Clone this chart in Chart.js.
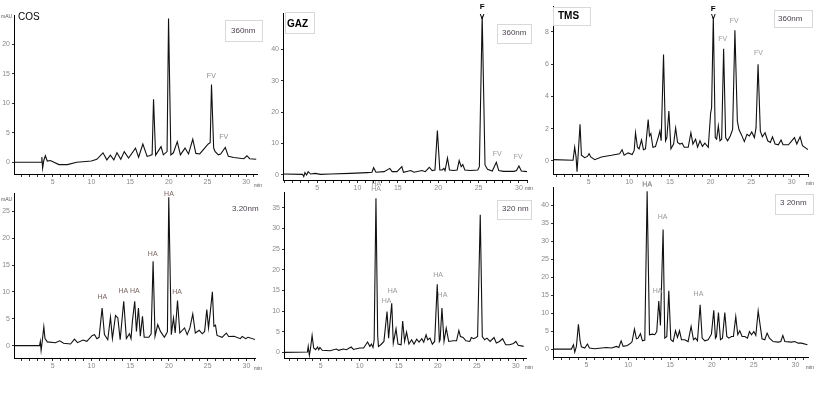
<!DOCTYPE html>
<html>
<head>
<meta charset="utf-8">
<script src="https://cdn.jsdelivr.net/npm/chart.js@4.4.1/dist/chart.umd.min.js"></script>
<style>
  body { margin: 0; background: #fff; }
  #page { position: relative; width: 817px; height: 399px; overflow: hidden; background: #fff; }
  #page canvas { position: absolute; }
</style>
</head>
<body>
<div id="page"></div>
<script>
// Chromatogrammes : [temps (min), absorbance (mAU)]
const cos360 = [[0,0],[3.5,0],[3.6,0.9],[3.7,-1.0],[3.85,0.3],[4.05,1.1],[4.3,0.2],[4.7,0.3],[5.8,-0.4],[6.9,-0.4],
  [8.1,0],[10.0,0.2],[10.7,0.5],[11.5,1.6],[12.0,0.4],[12.45,1.2],[12.9,0.4],[13.3,1.6],[13.8,0.5],[14.25,1.8],
  [14.8,0.7],[15.7,2.4],[16.1,0.85],[16.65,3.1],[17.2,1.0],[17.5,1.1],[17.85,1.3],[18.03,10.7],[18.3,1.2],[19.0,2.65],
  [19.3,1.25],[19.78,1.8],[19.97,24.4],[20.27,1.25],[20.6,1.6],[21.1,3.5],[21.5,1.25],[22.1,2.4],[22.55,1.4],[23.1,3.9],
  [23.5,1.5],[24.0,1.4],[24.8,2.65],[25.1,3.1],[25.35,3.3],[25.52,13.2],[25.8,2.4],[26.0,1.8],[26.4,1.25],[26.7,1.4],
  [27.3,2.5],[27.7,1.0],[28.4,0.8],[29.7,0.6],[30.1,1.1],[30.45,0.6],[31.3,0.5]];

const cos320 = [[0,0],[3.3,0],[3.4,0.8],[3.5,-0.9],[3.65,0.9],[3.85,3.5],[4.0,1.3],[4.3,0.7],[5.35,0.55],[5.9,0.9],
  [6.4,0.45],[7.3,0.3],[7.8,1.2],[8.2,0.55],[8.9,1.05],[9.4,0.8],[10.1,1.9],[10.4,2.05],[10.7,1.3],[10.98,1.55],
  [11.37,7.0],[11.67,2.05],[12.1,1.1],[12.45,5.3],[12.7,1.3],[13.1,5.6],[13.4,5.15],[13.7,1.1],[14.16,8.25],[14.5,1.3],
  [14.9,2.2],[15.1,1.3],[15.3,4.85],[15.58,8.25],[15.8,2.65],[16.06,7.0],[16.3,1.75],[16.58,5.45],[16.8,1.55],[17.4,1.55],
  [17.7,2.2],[17.95,15.7],[18.2,1.75],[18.55,3.9],[18.9,2.65],[19.4,1.55],[19.6,2.05],[19.8,2.6],[19.97,27.6],[20.3,2.05],
  [20.58,5.15],[20.8,2.35],[21.1,8.4],[21.4,2.35],[22.0,3.3],[22.35,2.05],[22.7,3.3],[23.07,5.9],[23.4,2.35],[23.9,2.85],
  [24.3,2.2],[24.6,2.65],[24.88,6.7],[25.1,3.3],[25.27,5.45],[25.6,10.0],[25.8,3.6],[26.0,3.8],[26.2,1.9],[26.85,1.55],
  [27.4,2.35],[27.7,1.7],[28.4,1.75],[29.2,1.3],[29.45,1.7],[29.9,1.3],[30.2,1.55],[31.2,1.1]];

const gaz360 = [[0.8,0.3],[3.2,0.2],[3.35,-0.5],[3.5,0.75],[3.7,0],[3.9,1.05],[4.2,0.3],[4.8,0.5],[5.4,0.2],[6.65,0.3],
  [9.1,0.5],[11.2,0.75],[11.8,0.85],[12.0,2.3],[12.3,0.85],[13.3,1.05],[14.0,2.1],[14.3,1.05],[14.9,1.05],[15.5,2.65],
  [15.7,0.85],[16.6,1.4],[17.0,0.85],[18.0,1.4],[18.4,1.05],[18.9,2.45],[19.25,1.4],[19.6,1.6],[19.9,14.1],[20.2,1.6],
  [20.5,1.6],[20.7,2.1],[20.85,1.4],[21.15,5.4],[21.4,1.6],[21.9,1.4],[22.35,1.6],[22.6,4.55],[22.85,2.65],[23.05,3.3],
  [23.3,1.6],[24.0,1.4],[24.9,1.6],[25.1,2.65],[25.45,50.6],[25.8,3.2],[26.1,1.8],[26.7,1.25],[27.2,4.0],[27.5,1.4],
  [28.1,1.15],[29.4,1.15],[29.7,1.4],[30.0,2.85],[30.3,1.25],[31.0,1.05]];

const gaz320 = [[0.3,0],[3.3,0.1],[3.4,1.45],[3.55,-0.7],[3.7,1.05],[3.9,4.1],[4.1,1.05],[4.35,0.65],[4.6,1.3],[4.75,0.65],
  [4.9,1.2],[5.2,0.5],[6.2,0.4],[7.0,0.8],[7.3,0.5],[7.9,0.8],[8.3,0.65],[8.9,1.3],[9.2,0.7],[10.0,1.05],
  [10.5,1.05],[11.0,2.5],[11.3,1.45],[11.5,2.0],[11.7,1.2],[11.85,3.0],[12.08,37.3],[12.3,4.0],[12.4,1.45],[12.7,1.85],
  [13.1,2.65],[13.5,9.9],[13.7,3.45],[14.1,11.9],[14.3,2.25],[14.65,5.7],[14.9,2.0],[15.3,1.85],[15.5,7.6],[15.75,2.65],
  [16.0,4.9],[16.3,2.0],[16.65,3.05],[16.95,2.0],[17.3,3.2],[17.6,2.5],[17.95,3.3],[18.2,2.5],[18.5,4.25],[18.7,3.05],
  [19.0,3.45],[19.3,2.0],[19.6,2.65],[19.93,16.45],[20.2,2.65],[20.3,3.05],[20.53,10.7],[20.8,2.65],[21.08,5.85],[21.4,2.65],
  [21.98,2.8],[22.4,2.8],[22.7,5.3],[22.9,3.85],[23.25,3.6],[23.6,2.8],[24.1,2.65],[24.3,3.6],[24.6,3.3],[24.9,3.6],
  [25.1,3.85],[25.44,33.3],[25.7,3.85],[26.0,3.05],[26.3,3.45],[26.7,2.65],[27.2,3.6],[27.5,2.25],[27.9,2.65],[28.3,3.3],
  [28.7,1.85],[29.2,1.85],[29.7,2.15],[30.0,2.65],[30.3,1.7],[31.0,1.45]];

const tms360 = [[0.6,0.08],[3.07,0.04],[3.27,0.85],[3.44,0.25],[3.56,-0.67],[3.73,0.65],[3.93,2.27],[4.1,0.35],[4.5,0.2],[4.84,0.28],
  [5.04,0.45],[5.25,0.25],[5.74,0.08],[6.56,0.25],[7.8,0.35],[8.8,0.45],[9.1,0.7],[9.36,0.35],[9.85,0.5],[10.35,0.4],
  [10.6,0.65],[10.76,1.75],[11.0,0.85],[11.2,0.75],[11.5,1.3],[11.74,0.7],[11.99,0.75],[12.32,2.57],[12.48,1.55],[12.65,1.7],
  [12.9,0.85],[13.22,0.9],[13.55,1.45],[13.76,1.85],[13.92,1.25],[14.21,6.6],[14.46,1.25],[14.62,1.45],[14.87,3.1],[15.12,0.75],
  [15.45,1.05],[15.7,2.05],[15.94,1.15],[16.23,1.05],[16.5,1.1],[16.76,0.85],[17.25,0.85],[17.58,1.75],[17.83,1.05],[18.16,1.35],
  [18.4,0.85],[18.7,1.25],[19.0,0.9],[19.3,1.1],[19.72,0.85],[20.01,2.97],[20.13,3.3],[20.34,8.95],[20.58,1.45],[20.75,1.35],
  [20.96,2.17],[21.16,1.25],[21.37,1.35],[21.61,6.96],[21.86,1.45],[22.1,1.25],[22.43,1.55],[22.72,1.95],[23.0,8.1],[23.3,2.47],
  [23.5,1.95],[23.83,1.6],[24.16,1.2],[24.49,1.65],[24.78,1.55],[25.07,1.8],[25.4,1.45],[25.6,2.05],[25.85,6.0],[26.13,1.85],
  [26.38,1.5],[26.71,1.75],[27.04,1.25],[27.37,1.15],[27.62,1.5],[27.95,1.05],[28.35,1.0],[28.68,1.3],[28.93,1.0],[29.59,1.0],
  [30.0,1.25],[30.33,1.45],[30.62,1.05],[31.03,1.5],[31.32,0.95],[32.0,0.7]];

const tms320 = [[1.0,0],[3.2,0],[3.45,1.2],[3.6,-0.85],[3.8,0.75],[4.04,6.9],[4.24,2.3],[4.4,0.65],[4.8,0.3],[5.12,1.4],
  [5.36,0.3],[6.0,0.1],[6.8,0.3],[7.4,0.45],[8.0,0.3],[8.6,0.75],[8.87,0.45],[9.15,2.3],[9.39,0.75],[9.9,1.0],
  [10.3,1.65],[10.46,2.1],[10.74,5.55],[10.98,2.85],[11.18,3.05],[11.46,4.25],[11.7,2.3],[11.98,2.5],[12.26,43.9],[12.54,4.0],
  [12.86,4.15],[13.17,4.0],[13.41,4.9],[13.65,13.4],[13.85,6.55],[14.17,33.3],[14.37,3.05],[14.61,3.5],[14.85,16.2],[15.09,2.6],
  [15.37,2.1],[15.65,5.1],[15.89,3.25],[16.13,5.1],[16.37,2.6],[16.76,2.6],[17.16,2.1],[17.52,6.3],[17.8,2.6],[18.04,3.05],
  [18.28,2.3],[18.6,12.3],[18.84,3.05],[19.16,2.3],[19.55,2.6],[19.95,4.15],[20.23,10.8],[20.43,3.05],[20.55,3.5],[20.79,10.15],
  [21.03,2.6],[21.27,3.05],[21.55,10.15],[21.79,3.5],[22.03,3.05],[22.35,3.5],[22.58,3.5],[22.86,9.05],[23.1,4.0],[23.34,5.1],
  [23.62,3.5],[23.94,3.5],[24.26,3.05],[24.5,4.9],[24.74,4.0],[25.02,4.9],[25.26,3.8],[25.54,10.6],[25.77,6.75],[26.0,2.85],
  [26.33,2.6],[26.61,4.45],[26.89,3.05],[27.33,2.1],[27.93,1.95],[28.25,2.1],[28.49,3.8],[28.73,2.1],[29.52,1.95],[29.92,2.1],
  [30.32,1.65],[30.72,1.65],[31.43,1.2]];

// graduations
const minuteTicks = [1,2,3,4,5,6,7,8,9,10,11,12,13,14,15,16,17,18,19,20,21,22,23,24,25,26,27,28,29,30,31,32];
const yTicksCos360 = [0, 5, 10, 15, 20];
const yTicksCos320 = [0, 5, 10, 15, 20, 25];
const yTicksGaz360 = [0, 10, 20, 30, 40];
const yTicksGaz320 = [0, 5, 10, 15, 20, 25, 30, 35];
const yTicksTms360 = [0, 2, 4, 6, 8];
const yTicksTms320 = [0, 5, 10, 15, 20, 25, 30, 35, 40];

// étiquettes des pics [temps, mAU, texte]
const notesCos360 = [[25.5, 14.6, 'FV'], [27.1, 4.35, 'FV']];
const notesCos320 = [[11.4, 9.0, 'HA'], [14.1, 10.2, 'HA'], [15.6, 10.2, 'HA'], [17.9, 17.1, 'HA'], [20.0, 28.2, 'HA'], [21.05, 10.0, 'HA']];
const notesGaz360 = [[27.3, 6.6, 'FV'], [29.9, 5.8, 'FV'], [12.35, -2.9, 'HA']];
const notesGaz320 = [[12.1, 39.4, 'HA'], [14.2, 14.85, 'HA'], [13.45, 12.4, 'HA'], [20.05, 18.7, 'HA'], [20.6, 13.9, 'HA']];
const notesTms360 = [[21.5, 7.57, 'FV'], [22.9, 8.7, 'FV'], [25.9, 6.68, 'FV'], [12.2, -1.42, 'HA']];
const notesTms320 = [[12.25, 45.5, 'HA'], [14.1, 36.6, 'HA'], [13.5, 16.2, 'HA'], [18.4, 15.4, 'HA']];

const FONT = 'Liberation Sans, Arial, sans-serif';

const panelText = (p) => ({
    id: 'panelText',
    afterDraw(chart) {
        const ctx = chart.ctx;
        const ox = p.box.x, oy = p.box.y;
        const sx = chart.scales.x, sy = chart.scales.y;
        ctx.save();
        ctx.textBaseline = 'middle';

        // cadres
        (p.frames || []).forEach(f => {
            ctx.strokeStyle = '#d8d8d8';
            ctx.lineWidth = 1;
            ctx.strokeRect(f[0] - ox + 0.5, f[1] - oy + 0.5, f[2], f[3]);
        });

        // nom de l'échantillon
        if (p.title) {
            ctx.fillStyle = '#000';
            ctx.font = (p.title.bold ? 'bold ' : '') + p.title.size + 'px ' + FONT;
            ctx.textAlign = 'left';
            ctx.fillText(p.title.text, p.title.x - ox, p.title.y - oy);
        }

        // longueur d'onde
        ctx.fillStyle = '#4d4450';
        ctx.font = '8px ' + FONT;
        ctx.textAlign = 'left';
        ctx.fillText(p.wl.text, p.wl.x - ox, p.wl.y - oy);

        // unités
        ctx.fillStyle = '#555';
        ctx.font = '5px ' + FONT;
        if (p.mau) ctx.fillText('mAU', p.mau[0] - ox, p.mau[1] - oy);
        ctx.fillText('min', p.minLbl[0] - ox, p.minLbl[1] - oy);

        // étiquettes des pics
        ctx.textAlign = 'center';
        ctx.font = '7px ' + FONT;
        p.notes.forEach(([t, v, txt]) => {
            ctx.fillStyle = p.noteColor;
            ctx.fillText(txt, sx.getPixelForValue(t), sy.getPixelForValue(v));
        });

        // marqueur F / V
        if (p.fMark) {
            ctx.fillStyle = '#000';
            ctx.font = 'bold 8px ' + FONT;
            const fx = sx.getPixelForValue(p.fMark[0]);
            ctx.fillText('F', fx, sy.getPixelForValue(p.fMark[1]));
            ctx.font = 'bold 7px ' + FONT;
            ctx.fillText('V', fx, sy.getPixelForValue(p.fMark[2]));
        }
        ctx.restore();
    }
});

function makePanel(p) {
    const canvas = document.createElement('canvas');
    canvas.width = p.box.w;
    canvas.height = p.box.h;
    canvas.style.left = p.box.x + 'px';
    canvas.style.top = p.box.y + 'px';
    document.getElementById('page').appendChild(canvas);

    const a = p.area;
    const tickFont = { family: FONT, size: 7 };

    new Chart(canvas, {
        type: 'line',
        data: {
            datasets: [{
                data: p.trace.map(([t, v]) => ({ x: t, y: v })),
                borderColor: '#111',
                borderWidth: 1.1,
                pointRadius: 0,
                tension: 0,
                fill: false
            }]
        },
        options: {
            responsive: false,
            animation: false,
            devicePixelRatio: 1,
            layout: { padding: { left: 0, bottom: 0, top: a.t - p.box.y, right: p.box.x + p.box.w - a.r } },
            plugins: { legend: { display: false }, tooltip: { enabled: false } },
            scales: {
                x: {
                    type: 'linear',
                    min: p.xr[0],
                    max: p.xr[1],
                    afterBuildTicks: s => { s.ticks = minuteTicks.filter(v => v >= p.xr[0] && v <= p.xr[1]).map(v => ({ value: v })); },
                    afterFit: s => { s.height = p.box.y + p.box.h - a.b; },
                    ticks: {
                        autoSkip: false, maxRotation: 0, padding: 1,
                        font: tickFont, color: '#8a8a8a',
                        callback: v => (v % 5 === 0 ? String(v) : '')
                    },
                    grid: { drawOnChartArea: false, tickLength: 3, color: '#333' },
                    border: { color: '#000', width: 1 }
                },
                y: {
                    type: 'linear',
                    min: p.yr[0],
                    max: p.yr[1],
                    afterBuildTicks: s => { s.ticks = p.yTicks.map(v => ({ value: v })); },
                    afterFit: s => { s.width = a.l - p.box.x; },
                    ticks: { padding: 2, font: tickFont, color: '#8a8a8a' },
                    grid: { drawOnChartArea: false, tickLength: 2, color: '#333' },
                    border: { color: '#000', width: 1 }
                }
            }
        },
        plugins: [panelText(p)]
    });
}

// COS 360 nm
makePanel({
    box: { x: 0, y: 0, w: 270, h: 192 }, area: { l: 14, t: 15, r: 257, b: 174 },
    xr: [0, 31.4], yr: [-2.0, 25.0], yTicks: yTicksCos360, trace: cos360,
    title: { text: 'COS', x: 18, y: 17, size: 10, bold: false },
    wl: { text: '360nm', x: 231, y: 31 }, frames: [[225, 20, 37, 21]],
    mau: [1, 17], minLbl: [254, 186],
    notes: notesCos360, noteColor: '#8c8c8c'
});

// COS 320 nm
makePanel({
    box: { x: 0, y: 185, w: 270, h: 190 }, area: { l: 14, t: 193, r: 255, b: 358 },
    xr: [0, 31.1], yr: [-2.3, 28.4], yTicks: yTicksCos320, trace: cos320,
    wl: { text: '3.20nm', x: 232, y: 209 },
    mau: [1, 200], minLbl: [254, 369],
    notes: notesCos320, noteColor: '#7a6560'
});

// GAZ 360 nm
makePanel({
    box: { x: 270, y: 0, w: 272, h: 195 }, area: { l: 283, t: 13, r: 527, b: 180 },
    xr: [0.78, 31.0], yr: [-1.6, 51.5], yTicks: yTicksGaz360, trace: gaz360,
    title: { text: 'GAZ', x: 287, y: 24, size: 10, bold: true },
    wl: { text: '360nm', x: 502, y: 33 }, frames: [[285, 12, 29, 21], [497, 24, 34, 19]],
    minLbl: [525, 189],
    notes: notesGaz360, noteColor: '#999',
    fMark: [25.45, 53.5, 50.3]
});

// GAZ 320 nm
makePanel({
    box: { x: 270, y: 180, w: 272, h: 195 }, area: { l: 284, t: 192, r: 526, b: 358 },
    xr: [0.3, 31.3], yr: [-1.36, 38.8], yTicks: yTicksGaz320, trace: gaz320,
    wl: { text: '320 nm', x: 502, y: 209 }, frames: [[497, 200, 34, 19]],
    minLbl: [525, 368],
    notes: notesGaz320, noteColor: '#999'
});

// TMS 360 nm
makePanel({
    box: { x: 540, y: 0, w: 277, h: 192 }, area: { l: 553, t: 3, r: 808, b: 174 },
    xr: [0.6, 32.0], yr: [-0.81, 9.6], yTicks: yTicksTms360, trace: tms360,
    title: { text: 'TMS', x: 558, y: 16, size: 10, bold: true },
    wl: { text: '360nm', x: 778, y: 19 }, frames: [[553, 7, 37, 18], [774, 10, 38, 17]],
    minLbl: [806, 184],
    notes: notesTms360, noteColor: '#999',
    fMark: [20.34, 9.46, 8.91]
});

// TMS 320 nm
makePanel({
    box: { x: 540, y: 178, w: 277, h: 197 }, area: { l: 553, t: 187, r: 808, b: 357 },
    xr: [1.0, 31.5], yr: [-2.2, 45.1], yTicks: yTicksTms320, trace: tms320,
    wl: { text: '3 20nm', x: 780, y: 203 }, frames: [[775, 194, 38, 20]],
    minLbl: [806, 368],
    notes: notesTms320, noteColor: '#999'
});
</script>
</body>
</html>
